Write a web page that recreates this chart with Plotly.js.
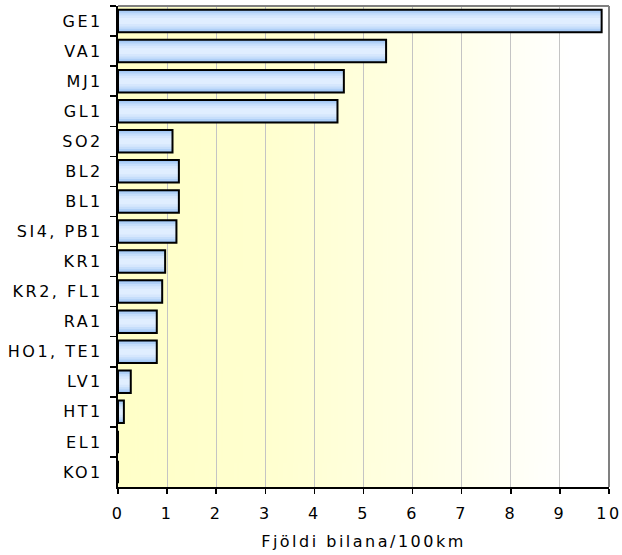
<!DOCTYPE html>
<html><head><meta charset="utf-8">
<script src="https://cdn.plot.ly/plotly-3.0.1.min.js"></script>
<style>
html,body{margin:0;padding:0;background:#fff}
.ytick text, .xtick text, text.xtitle {letter-spacing:2.5px}
</style></head>
<body>
<div id="chart" style="width:622px;height:555px"></div>
<script>
const categories = ["GE1","VA1","MJ1","GL1","SO2","BL2","BL1","SI4, PB1","KR1","KR2, FL1","RA1","HO1, TE1","LV1","HT1","EL1","KO1"];
const values = [9.85, 5.46, 4.60, 4.47, 1.11, 1.24, 1.24, 1.19, 0.96, 0.90, 0.79, 0.79, 0.26, 0.12, 0, 0];
const xTicks = [0,1,2,3,4,5,6,7,8,9,10];
const xTitle = "Fjöldi bilana/100km";

// background gradient image
const cv = document.createElement('canvas');
cv.width = 400; cv.height = 10;
const ctx = cv.getContext('2d');
const g = ctx.createLinearGradient(0,0,400,0);
g.addColorStop(0, '#ffffc8');
g.addColorStop(0.3, '#ffffcf');
g.addColorStop(0.6, '#ffffe3');
g.addColorStop(0.92, '#ffffff');
g.addColorStop(1, '#ffffff');
ctx.fillStyle = g; ctx.fillRect(0,0,400,10);
const bgUrl = cv.toDataURL();

const W = 0.75;
const layers = [
  {f:1.0, c:'#98c0f2'},
  {f:0.86, c:'#b0d0f7'},
  {f:0.68, c:'#c6defb'},
  {f:0.48, c:'#d6e7fd'},
  {f:0.26, c:'#e0eeff'}
];
const traces = layers.map(l => ({
  type:'bar', orientation:'h', y:categories, x:values,
  width: W*l.f, marker:{color:l.c, line:{width:0}},
  hoverinfo:'skip', showlegend:false
}));
traces.push({
  type:'bar', orientation:'h', y:categories, x:values, width:W,
  marker:{color:'rgba(0,0,0,0)', line:{color:'#000', width:2}},
  showlegend:false
});

const font = {family:'"DejaVu Sans", Verdana, sans-serif', size:16, color:'#000'};
const layout = {
  width:622, height:555,
  margin:{l:118, r:13, t:6, b:68},
  paper_bgcolor:'#fff', plot_bgcolor:'rgba(0,0,0,0)',
  barmode:'overlay',
  font: font,
  images:[{source:bgUrl, xref:'paper', yref:'paper', x:0, y:1, sizex:1, sizey:1,
           sizing:'stretch', xanchor:'left', yanchor:'top', layer:'below'}],
  xaxis:{range:[0,10], tickvals:xTicks, ticktext:xTicks.map(String),
         showgrid:true, gridcolor:'#c4c4c4', gridwidth:1, zeroline:false,
         showline:true, linecolor:'#000', linewidth:2,
         ticks:'outside', ticklen:5, tickcolor:'#000', tickwidth:1.5,
         ticklabelstandoff:6, tickfont:font,
         title:{text:xTitle, font:font, standoff:14}},
  yaxis:{type:'category', categoryorder:'array', categoryarray:categories,
         autorange:'reversed', tickson:'boundaries', showgrid:false, zeroline:false,
         showline:true, linecolor:'#000', linewidth:2,
         ticks:'outside', ticklen:6, tickcolor:'#000', tickwidth:1.5,
         ticklabelstandoff:10, tickfont:font},
  shapes:[
    {type:'line', xref:'paper', yref:'paper', x0:0, x1:1, y0:1, y1:1, line:{color:'#808080', width:2}},
    {type:'line', xref:'paper', yref:'paper', x0:1, x1:1, y0:0, y1:1, line:{color:'#808080', width:2}}
  ]
};
Plotly.newPlot('chart', traces, layout, {displayModeBar:false, staticPlot:true});
</script>
</body></html>
